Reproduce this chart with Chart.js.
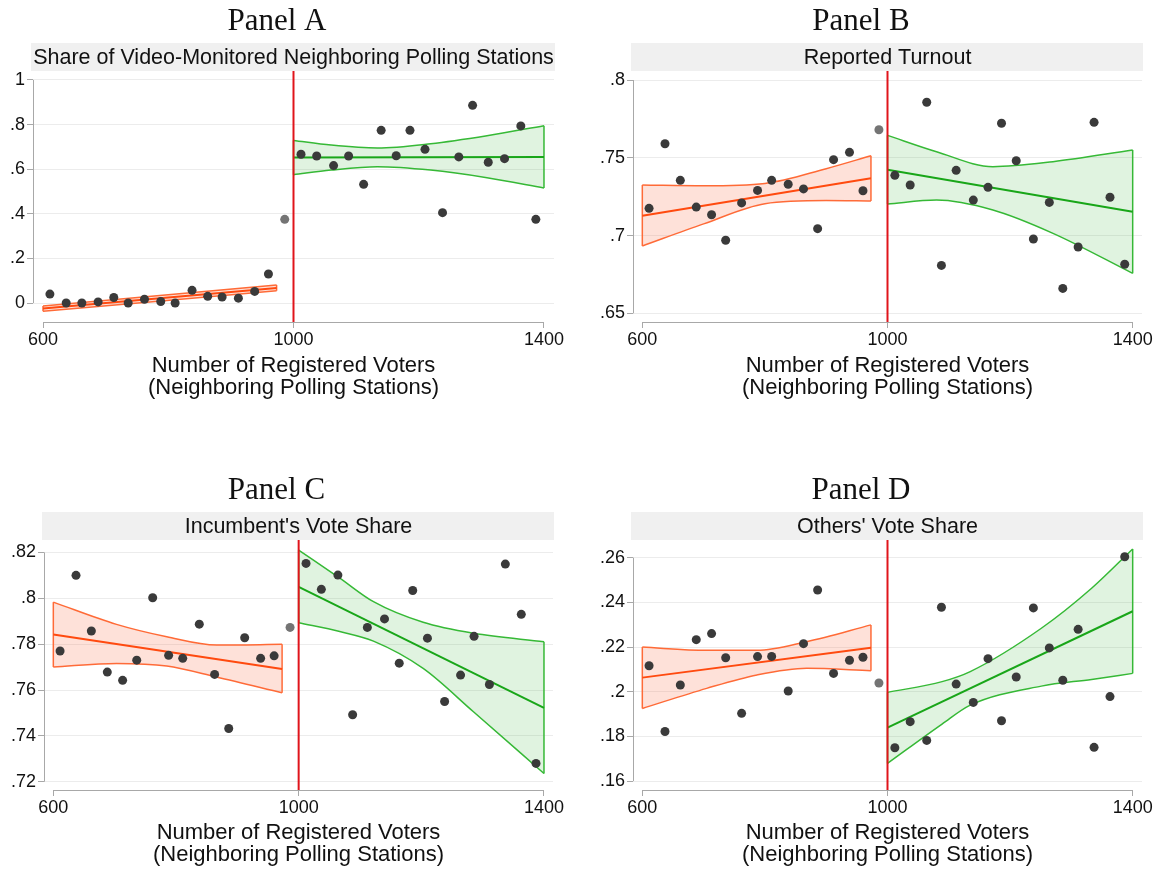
<!DOCTYPE html>
<html>
<head>
<meta charset="utf-8">
<script src="https://cdn.jsdelivr.net/npm/chart.js@4.4.0/dist/chart.umd.min.js"></script>
<style>
  html, body { margin: 0; padding: 0; background: #fff; }
  #wrap { position: relative; width: 1160px; height: 869px; }
  #wrap canvas { position: absolute; }
</style>
</head>
<body>
<div id="wrap">
  <canvas id="panelA" width="580" height="434" style="left:0;top:0"></canvas>
  <canvas id="panelB" width="580" height="434" style="left:580px;top:0"></canvas>
  <canvas id="panelC" width="580" height="435" style="left:0;top:434px"></canvas>
  <canvas id="panelD" width="580" height="435" style="left:580px;top:434px"></canvas>
</div>
<script>
// shared x values (registered voters, binned)
const cutoff = 1000;
const xTicks = [600, 1000, 1400];
const xTickLabels = ['600', '1000', '1400'];
const binsLeft = [611, 637, 662, 688, 713, 736, 762, 788, 811, 838, 863, 886, 912, 938, 960];
const binNearCut = 986;
const binsRight = [1012, 1037, 1064, 1088, 1112, 1140, 1164, 1186, 1210, 1238, 1264, 1286, 1311, 1337, 1363, 1387];
const fitXLeft = [600, 973];
const fitXRight = [1000, 1400];

// Panel A - share of video-monitored neighbours
const videoLeft = [0.040, 0.000, 0.000, 0.005, 0.025, 0.000, 0.017, 0.007, 0.000, 0.057, 0.030, 0.027, 0.022, 0.052, 0.130];
const videoNearCut = 0.375;
const videoRight = [0.667, 0.659, 0.616, 0.659, 0.532, 0.774, 0.660, 0.774, 0.689, 0.405, 0.655, 0.886, 0.631, 0.647, 0.794, 0.375];
const videoFitLeft = [-0.024, 0.067];
const videoFitRight = [0.652, 0.655];
const videoBandXLeft = [600, 973];
const videoHiLeft = [-0.013, 0.081];
const videoLoLeft = [-0.037, 0.055];
const videoBandXRight = [1000, 1060, 1134, 1219, 1309, 1400];
const videoHiRight = [0.729, 0.708, 0.695, 0.714, 0.750, 0.795];
const videoLoRight = [0.575, 0.596, 0.611, 0.596, 0.562, 0.516];
const videoTicks = [0, 0.2, 0.4, 0.6, 0.8, 1];
const videoTickLabels = ['0', '.2', '.4', '.6', '.8', '1'];

// Panel B - reported turnout
const turnoutLeft = [0.7175, 0.759, 0.7355, 0.7183, 0.7134, 0.697, 0.721, 0.729, 0.7355, 0.733, 0.730, 0.7044, 0.7488, 0.7535, 0.7288];
const turnoutNearCut = 0.768;
const turnoutRight = [0.7387, 0.7325, 0.7857, 0.6808, 0.7419, 0.7228, 0.731, 0.7722, 0.7481, 0.6978, 0.7213, 0.666, 0.6926, 0.7728, 0.7246, 0.6815];
const turnoutFitLeft = [0.7127, 0.7368];
const turnoutFitRight = [0.7423, 0.7153];
const turnoutBandXLeft = [600, 700, 800, 900, 973];
const turnoutHiLeft = [0.7325, 0.732, 0.7335, 0.743, 0.7513];
const turnoutLoLeft = [0.6933, 0.7075, 0.7205, 0.7225, 0.7222];
const turnoutBandXRight = [1000, 1080, 1172, 1270, 1400];
const turnoutHiRight = [0.7644, 0.7539, 0.7443, 0.7475, 0.755];
const turnoutLoRight = [0.7203, 0.7228, 0.7164, 0.7014, 0.6757];
const turnoutTicks = [0.65, 0.7, 0.75, 0.8];
const turnoutTickLabels = ['.65', '.7', '.75', '.8'];

// Panel C - incumbent's vote share
const incLeft = [0.777, 0.810, 0.7857, 0.7678, 0.7642, 0.773, 0.8002, 0.7751, 0.7738, 0.7887, 0.7668, 0.7432, 0.7828, 0.7738, 0.7749];
const incNearCut = 0.7873;
const incRight = [0.8152, 0.8039, 0.8101, 0.7492, 0.7873, 0.791, 0.7717, 0.8034, 0.7826, 0.755, 0.7665, 0.7834, 0.7624, 0.8149, 0.793, 0.728];
const incFitLeft = [0.7842, 0.7692];
const incFitRight = [0.805, 0.7522];
const incBandXLeft = [600, 703, 785, 866, 973];
const incHiLeft = [0.7983, 0.7886, 0.7832, 0.7796, 0.7799];
const incLoLeft = [0.770, 0.7716, 0.7705, 0.7657, 0.7588];
const incBandXRight = [1000, 1067, 1122, 1203, 1285, 1400];
const incHiRight = [0.821, 0.8088, 0.7985, 0.7895, 0.7847, 0.781];
const incLoRight = [0.7893, 0.7855, 0.7813, 0.7694, 0.7505, 0.7236];
const incTicks = [0.72, 0.74, 0.76, 0.78, 0.8, 0.82];
const incTickLabels = ['.72', '.74', '.76', '.78', '.8', '.82'];

// Panel D - others' vote share
const othLeft = [0.2116, 0.1822, 0.203, 0.2233, 0.226, 0.2152, 0.1903, 0.2157, 0.2158, 0.2003, 0.2215, 0.2455, 0.2082, 0.2141, 0.2154];
const othNearCut = 0.2039;
const othRight = [0.1749, 0.1866, 0.1782, 0.2378, 0.2034, 0.1952, 0.2148, 0.187, 0.2066, 0.2375, 0.2196, 0.2051, 0.2279, 0.1751, 0.1978, 0.2604];
const othFitLeft = [0.2063, 0.2197];
const othFitRight = [0.1839, 0.236];
const othBandXLeft = [600, 705, 787, 868, 973];
const othHiLeft = [0.22, 0.2185, 0.2185, 0.2224, 0.2299];
const othLoLeft = [0.1925, 0.2015, 0.2075, 0.2105, 0.2094];
const othBandXRight = [1000, 1089, 1135, 1251, 1333, 1400];
const othHiRight = [0.1997, 0.2045, 0.209, 0.2284, 0.2463, 0.2639];
const othLoRight = [0.1679, 0.1855, 0.194, 0.2025, 0.2055, 0.2082];
const othTicks = [0.16, 0.18, 0.2, 0.22, 0.24, 0.26];
const othTickLabels = ['.16', '.18', '.2', '.22', '.24', '.26'];

const orange = { line: '#ff4a0f', edge: '#ff6a36', fill: 'rgba(250,120,80,0.22)' };
const green = { line: '#19a619', edge: '#36b936', fill: 'rgba(60,180,60,0.16)' };

Chart.defaults.font.family = '"Liberation Sans", Arial, sans-serif';
Chart.defaults.color = '#111';

function pts(xs, ys) {
    return xs.map((x, i) => ({ x: x, y: ys[i] }));
}

// fit line + shaded CI band for one side of the cutoff
function side(fitX, fit, bx, hi, lo, col) {
    const n = bx.length - 1;
    const edge = { borderColor: col.edge, borderWidth: 1.5, pointRadius: 0 };
    return [
        { data: pts(fitX, fit), borderColor: col.line, borderWidth: 2, pointRadius: 0 },
        Object.assign({ data: pts(bx, hi), cubicInterpolationMode: 'monotone', fill: '+1', backgroundColor: col.fill }, edge),
        Object.assign({ data: pts(bx, lo), cubicInterpolationMode: 'monotone' }, edge),
        Object.assign({ data: [{ x: bx[0], y: lo[0] }, { x: bx[0], y: hi[0] }] }, edge),
        Object.assign({ data: [{ x: bx[n], y: lo[n] }, { x: bx[n], y: hi[n] }] }, edge)
    ];
}

// grey strip, panel title, axis lines and the cutoff line
const panelFrame = {
    id: 'panelFrame',
    beforeDraw(chart, args, opts) {
        const { ctx, chartArea: a } = chart;
        ctx.save();
        ctx.fillStyle = '#f0f0f0';
        ctx.fillRect(a.left - 2, a.top - 28, a.right - a.left + 3, 28);
        ctx.fillStyle = '#111';
        ctx.textAlign = 'center';
        ctx.textBaseline = 'middle';
        ctx.font = '21.5px "Liberation Sans"';
        ctx.fillText(opts.subtitle, (a.left + a.right) / 2, a.top - 13);
        ctx.font = '31px "Liberation Serif"';
        ctx.textBaseline = 'alphabetic';
        ctx.fillText(opts.title, a.right / 2, a.top - 41);
        ctx.restore();
    },
    afterDraw(chart, args, opts) {
        const { ctx, chartArea: a, scales } = chart;
        const yt = opts.yTicks;
        ctx.save();
        ctx.strokeStyle = '#a8a8a8';
        ctx.lineWidth = 1;
        ctx.beginPath();
        ctx.moveTo(a.left + 0.5, scales.y.getPixelForValue(yt[0]));
        ctx.lineTo(a.left + 0.5, scales.y.getPixelForValue(yt[yt.length - 1]));
        ctx.moveTo(scales.x.getPixelForValue(xTicks[0]), a.bottom + 0.5);
        ctx.lineTo(scales.x.getPixelForValue(xTicks[xTicks.length - 1]), a.bottom + 0.5);
        ctx.stroke();
        const cx = scales.x.getPixelForValue(cutoff);
        ctx.strokeStyle = '#e0141b';
        ctx.lineWidth = 2;
        ctx.beginPath();
        ctx.moveTo(cx, a.top);
        ctx.lineTo(cx, a.bottom);
        ctx.stroke();
        ctx.restore();
    }
};

function makePanel(id, p) {
    const datasets = [
        { data: pts(binsLeft, p.left).concat(pts(binsRight, p.right)), showLine: false,
          pointRadius: 4.5, pointBorderWidth: 0, pointBackgroundColor: '#3a3a3a' },
        { data: [{ x: binNearCut, y: p.nearCut }], showLine: false,
          pointRadius: 4.5, pointBorderWidth: 0, pointBackgroundColor: '#747474' }
    ].concat(
        side(fitXLeft, p.fitLeft, p.bandXLeft, p.hiLeft, p.loLeft, orange),
        side(fitXRight, p.fitRight, p.bandXRight, p.hiRight, p.loRight, green)
    );

    return new Chart(document.getElementById(id), {
        type: 'line',
        data: { datasets: datasets },
        plugins: [panelFrame],
        options: {
            responsive: false,
            animation: false,
            layout: { padding: { left: 0, right: p.padRight, top: p.top, bottom: 0 } },
            plugins: {
                legend: { display: false },
                tooltip: { enabled: false },
                panelFrame: { title: p.title, subtitle: p.subtitle, yTicks: p.yTicks }
            },
            scales: {
                x: {
                    type: 'linear',
                    min: p.xMin, max: p.xMax,
                    afterBuildTicks: s => { s.ticks = xTicks.map(v => ({ value: v })); },
                    afterFit: s => { s.height = p.xHeight; },
                    border: { display: false },
                    grid: { drawOnChartArea: false, tickLength: 6, tickColor: '#a8a8a8' },
                    ticks: { autoSkip: false, maxRotation: 0, padding: 1, font: { size: 18 },
                             callback: (v, i) => xTickLabels[i] },
                    title: {
                        display: true,
                        text: ['Number of Registered Voters', '(Neighboring Polling Stations)'],
                        font: { size: 22, lineHeight: 0.96 },
                        padding: { top: 0, bottom: p.titlePad }
                    }
                },
                y: {
                    min: p.yMin, max: p.yMax,
                    afterBuildTicks: s => { s.ticks = p.yTicks.map(v => ({ value: v })); },
                    afterFit: s => { s.width = p.yWidth; },
                    border: { display: false },
                    grid: { color: '#ececec', tickLength: 6, tickColor: '#a8a8a8' },
                    ticks: { padding: 2, font: { size: 18 }, callback: (v, i) => p.yLabels[i] }
                }
            }
        }
    });
}

makePanel('panelA', {
    title: 'Panel A', subtitle: 'Share of Video-Monitored Neighboring Polling Stations',
    left: videoLeft, nearCut: videoNearCut, right: videoRight,
    fitLeft: videoFitLeft, fitRight: videoFitRight,
    bandXLeft: videoBandXLeft, hiLeft: videoHiLeft, loLeft: videoLoLeft,
    bandXRight: videoBandXRight, hiRight: videoHiRight, loRight: videoLoRight,
    yTicks: videoTicks, yLabels: videoTickLabels,
    yMin: -0.085, yMax: 1.040, xMin: 584, xMax: 1416,
    top: 71, padRight: 26, yWidth: 33, xHeight: 112, titlePad: 36
});

makePanel('panelB', {
    title: 'Panel B', subtitle: 'Reported Turnout',
    left: turnoutLeft, nearCut: turnoutNearCut, right: turnoutRight,
    fitLeft: turnoutFitLeft, fitRight: turnoutFitRight,
    bandXLeft: turnoutBandXLeft, hiLeft: turnoutHiLeft, loLeft: turnoutLoLeft,
    bandXRight: turnoutBandXRight, hiRight: turnoutHiRight, loRight: turnoutLoRight,
    yTicks: turnoutTicks, yLabels: turnoutTickLabels,
    yMin: 0.6444, yMax: 0.8058, xMin: 584.8, xMax: 1415.2,
    top: 71, padRight: 18, yWidth: 53, xHeight: 112, titlePad: 36
});

makePanel('panelC', {
    title: 'Panel C', subtitle: "Incumbent's Vote Share",
    left: incLeft, nearCut: incNearCut, right: incRight,
    fitLeft: incFitLeft, fitRight: incFitRight,
    bandXLeft: incBandXLeft, hiLeft: incHiLeft, loLeft: incLoLeft,
    bandXRight: incBandXRight, hiRight: incHiRight, loRight: incLoRight,
    yTicks: incTicks, yLabels: incTickLabels,
    yMin: 0.7164, yMax: 0.8254, xMin: 584.8, xMax: 1414.7,
    top: 106, padRight: 27, yWidth: 44, xHeight: 79, titlePad: 4
});

makePanel('panelD', {
    title: 'Panel D', subtitle: "Others' Vote Share",
    left: othLeft, nearCut: othNearCut, right: othRight,
    fitLeft: othFitLeft, fitRight: othFitRight,
    bandXLeft: othBandXLeft, hiLeft: othHiLeft, loLeft: othLoLeft,
    bandXRight: othBandXRight, hiRight: othHiRight, loRight: othLoRight,
    yTicks: othTicks, yLabels: othTickLabels,
    yMin: 0.156, yMax: 0.2679, xMin: 584.8, xMax: 1415.2,
    top: 106, padRight: 18, yWidth: 53, xHeight: 79, titlePad: 4
});
</script>
</body>
</html>
